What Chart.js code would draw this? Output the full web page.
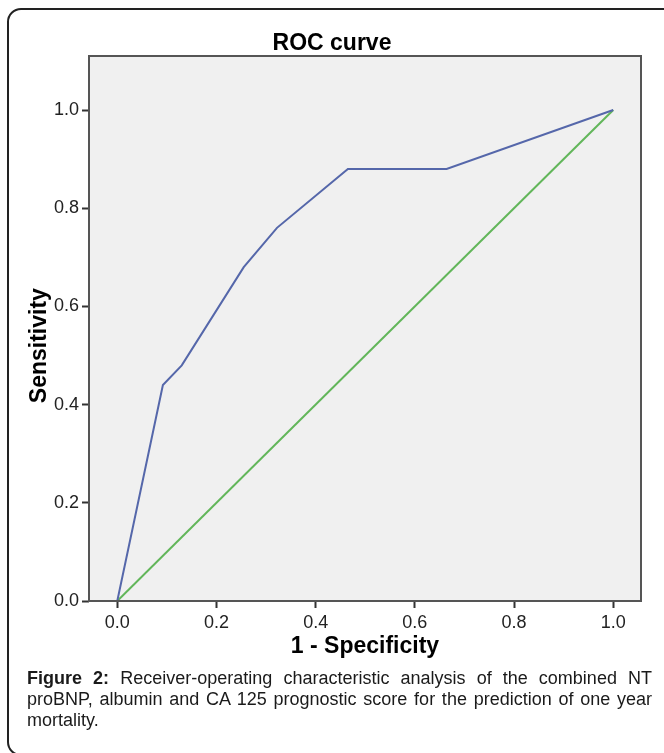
<!DOCTYPE html>
<html>
<head>
<meta charset="utf-8">
<script src="https://cdn.jsdelivr.net/npm/chart.js@4.4.1/dist/chart.umd.min.js"></script>
<style>
  html, body { margin: 0; padding: 0; background: #fff; }
  body { width: 664px; height: 753px; position: relative; overflow: hidden; font-family: "Liberation Sans", Arial, sans-serif; }
  #frame { position: absolute; left: 7px; top: 8px; width: 700px; height: 748px; border: 2px solid #222; border-radius: 14px; box-sizing: border-box; }
  #chart { position: absolute; left: 0; top: 0; }
  #caption { position: absolute; left: 27px; width: 625px; top: 668px; font-size: 18px; line-height: 21px; text-align: justify; color: #1a1a1a; }
</style>
</head>
<body>
<div id="frame"></div>
<canvas id="chart" width="664" height="670"></canvas>
<div id="caption"><b>Figure 2:</b> Receiver-operating characteristic analysis of the combined NT proBNP, albumin and CA 125 prognostic score for the prediction of one year mortality.</div>
<script>
// --- Data ---
const specificity = [0, 0.092, 0.13, 0.255, 0.322, 0.465, 0.664, 1];
const sensitivity = [0, 0.44, 0.48, 0.68, 0.76, 0.88, 0.88, 1];
const refX = [0, 1];
const refY = [0, 1];
const xTicks = [0, 0.2, 0.4, 0.6, 0.8, 1.0];
const yTicks = [0, 0.2, 0.4, 0.6, 0.8, 1.0];

const toPoints = (xs, ys) => xs.map((x, i) => ({ x, y: ys[i] }));

const FONT = "'Liberation Sans', Arial, sans-serif";
const tickFont = { family: FONT, size: 18 };
const titleFont = { family: FONT, size: 23, weight: "bold" };

// grey plot panel, box round it, and the y title (SPSS centres it a bit low)
const plotBox = {
  id: "plotBox",
  beforeDraw(chart) {
    const { ctx, chartArea: a } = chart;
    ctx.save();
    ctx.fillStyle = "#f0f0f0";
    ctx.fillRect(a.left, a.top, a.width, a.height);
    ctx.restore();
  },
  afterDatasetsDraw(chart) {
    const { ctx, chartArea: a, scales } = chart;
    ctx.save();
    ctx.strokeStyle = "#555";
    ctx.lineWidth = 2;
    ctx.strokeRect(a.left, a.top, a.width, a.height);

    const yMid = scales.y.getPixelForValue(0.52);
    ctx.translate(40, yMid);
    ctx.rotate(-Math.PI / 2);
    ctx.fillStyle = "#000";
    ctx.font = `bold ${titleFont.size}px ${FONT}`;
    ctx.textAlign = "center";
    ctx.textBaseline = "middle";
    ctx.fillText("Sensitivity", 0, 0);
    ctx.restore();
  }
};

const axisGrid = { drawOnChartArea: false, drawTicks: true, tickLength: 7, tickWidth: 2, tickColor: "#333" };

new Chart(document.getElementById("chart"), {
  type: "scatter",
  data: {
    datasets: [
      {
        label: "ROC",
        data: toPoints(specificity, sensitivity),
        showLine: true,
        borderColor: "#5567aa",
        borderWidth: 2,
        pointRadius: 0,
        tension: 0
      },
      {
        label: "Reference",
        data: toPoints(refX, refY),
        showLine: true,
        borderColor: "#62b65a",
        borderWidth: 2,
        pointRadius: 0
      }
    ]
  },
  options: {
    responsive: false,
    animation: false,
    devicePixelRatio: 1,
    events: [],
    layout: { padding: 0 },
    plugins: {
      legend: { display: false },
      tooltip: { enabled: false },
      title: {
        display: true,
        text: "ROC curve",
        color: "#000",
        font: { ...titleFont, lineHeight: 1 },
        padding: { top: 32, bottom: 1 }
      }
    },
    scales: {
      x: {
        type: "linear",
        min: -0.057,
        max: 1.056,
        afterBuildTicks: s => { s.ticks = xTicks.map(v => ({ value: v })); },
        afterFit: s => { s.height = 69; },
        border: { display: false },
        grid: axisGrid,
        ticks: { padding: 4, color: "#222", font: tickFont, maxRotation: 0, callback: v => v.toFixed(1) },
        title: { display: true, text: "1 - Specificity", color: "#000", font: titleFont, padding: { top: 0, bottom: 10 } }
      },
      y: {
        type: "linear",
        min: 0,
        max: 1.11,
        afterBuildTicks: s => { s.ticks = yTicks.map(v => ({ value: v })); },
        afterFit: s => { s.width = 89; },
        border: { display: false },
        grid: axisGrid,
        ticks: { padding: 3, color: "#222", font: tickFont, callback: v => v.toFixed(1) },
        title: { display: false }
      },
      // empty strip on the right so the plot ends where the figure's does
      right: {
        type: "linear",
        position: "right",
        afterFit: s => { s.width = 23; },
        border: { display: false },
        grid: { display: false },
        ticks: { display: false }
      }
    }
  },
  plugins: [plotBox]
});
</script>
</body>
</html>
